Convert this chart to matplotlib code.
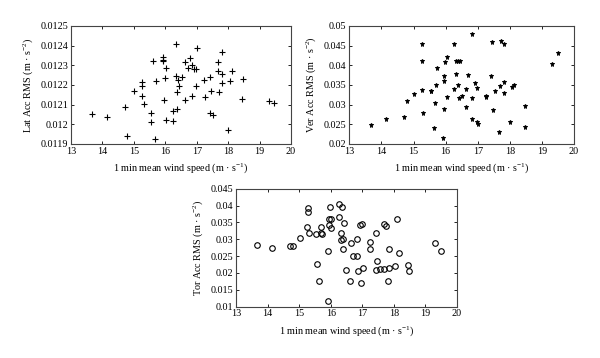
import numpy as np
import matplotlib
matplotlib.use("Agg")
from matplotlib import pyplot as plt

plt.rcParams['font.family'] = ['Liberation Serif', 'DejaVu Serif']
plt.rcParams['mathtext.default'] = 'regular'
plt.rcParams['font.size'] = 7.3

# lateral acceleration RMS vs wind speed
lat_x = [13.68, 14.15, 14.72, 14.77, 15.01, 15.26, 15.26, 15.26, 15.31, 15.55,
         15.54, 15.62, 15.70, 15.68, 15.92, 15.93, 15.94, 16.02, 15.99, 15.95,
         16.02, 16.33, 16.34, 16.40, 16.44, 16.38, 16.25, 16.37, 16.26, 16.52,
         16.63, 16.71, 16.80, 16.84, 16.91, 16.97, 17.01, 16.62, 16.84, 16.97,
         17.24, 17.25, 17.42, 17.43, 17.52, 17.46, 17.67, 17.68, 17.71, 17.81,
         17.82, 17.82, 18.00, 18.07, 18.12, 18.45, 18.47, 19.29, 19.47]
lat_y = [0.012054, 0.012039, 0.012089, 0.011941, 0.012169, 0.012213, 0.012196, 0.012143, 0.012104, 0.012057,
         0.012013, 0.012321, 0.012221, 0.011925, 0.012343, 0.012327, 0.012322, 0.012285, 0.012238, 0.012123,
         0.012022, 0.012407, 0.012245, 0.012224, 0.012197, 0.012164, 0.012069, 0.012076, 0.012017, 0.012241,
         0.012316, 0.012285, 0.012338, 0.012304, 0.012282, 0.012280, 0.012386, 0.012123, 0.012145, 0.012194,
         0.012224, 0.012140, 0.012241, 0.012060, 0.012045, 0.012169, 0.012317, 0.012273, 0.012164, 0.012368,
         0.012258, 0.012211, 0.011973, 0.012219, 0.012270, 0.012128, 0.012231, 0.012120, 0.012106]

# vertical acceleration RMS
ver_x = [13.66, 14.14, 14.71, 14.79, 15.01, 15.26, 15.27, 15.25, 15.31, 15.54,
         15.56, 15.63, 15.67, 15.70, 15.72, 15.94, 15.95, 15.94, 15.93, 15.99,
         16.03, 16.03, 16.26, 16.26, 16.32, 16.33, 16.38, 16.45, 16.38, 16.41,
         16.51, 16.62, 16.63, 16.70, 16.81, 16.83, 16.83, 16.92, 16.99, 17.02,
         16.99, 17.25, 17.26, 17.42, 17.43, 17.47, 17.54, 17.67, 17.68, 17.72,
         17.81, 17.81, 17.83, 18.00, 18.08, 18.12, 18.46, 18.47, 19.30, 19.49]
ver_y = [0.0249, 0.0264, 0.0269, 0.0309, 0.0327, 0.0454, 0.0410, 0.0336, 0.0280, 0.0335,
         0.0334, 0.0241, 0.0304, 0.0350, 0.0392, 0.0372, 0.0360, 0.0290, 0.0216, 0.0409,
         0.0420, 0.0320, 0.0454, 0.0339, 0.0378, 0.0410, 0.0410, 0.0412, 0.0351, 0.0318,
         0.0323, 0.0295, 0.0339, 0.0376, 0.0479, 0.0316, 0.0264, 0.0355, 0.0256, 0.0250,
         0.0343, 0.0323, 0.0320, 0.0372, 0.0460, 0.0287, 0.0334, 0.0231, 0.0347, 0.0462,
         0.0453, 0.0357, 0.0329, 0.0256, 0.0345, 0.0350, 0.0297, 0.0242, 0.0404, 0.0432]

# torsional acceleration RMS
tor_x = [13.68, 14.15, 14.72, 14.80, 15.02, 15.27, 15.27, 15.26, 15.32, 15.55,
         15.56, 15.64, 15.68, 15.71, 15.70, 15.93, 15.93, 15.96, 15.98, 15.96,
         16.02, 16.01, 16.25, 16.26, 16.37, 16.33, 16.34, 16.38, 16.40, 16.43,
         16.50, 16.62, 16.63, 16.71, 16.82, 16.84, 16.85, 16.92, 16.99, 16.97,
         17.02, 17.26, 17.26, 17.44, 17.48, 17.43, 17.55, 17.69, 17.69, 17.74,
         17.82, 17.84, 17.86, 18.03, 18.09, 18.15, 18.44, 18.47, 19.31, 19.48]
tor_y = [0.0282, 0.0275, 0.0281, 0.0281, 0.0305, 0.0393, 0.0380, 0.0337, 0.0318, 0.0315,
         0.0228, 0.0177, 0.0318, 0.0315, 0.0335, 0.0266, 0.0116, 0.0361, 0.0397, 0.0341,
         0.0361, 0.0333, 0.0405, 0.0365, 0.0397, 0.0318, 0.0297, 0.0300, 0.0270, 0.0347,
         0.0210, 0.0176, 0.0289, 0.0250, 0.0300, 0.0250, 0.0206, 0.0342, 0.0345, 0.0171,
         0.0215, 0.0292, 0.0272, 0.0319, 0.0237, 0.0210, 0.0212, 0.0211, 0.0345, 0.0339,
         0.0177, 0.0272, 0.0215, 0.0220, 0.0361, 0.0258, 0.0224, 0.0207, 0.0288, 0.0266]

xticks = [13, 14, 15, 16, 17, 18, 19, 20]
xlab = "1 min mean wind speed (m · s$^{-1}$)"

fig = plt.figure(figsize=(6, 3.58), dpi=100)
ax1 = fig.add_axes([0.1183, 0.5978, 0.3667, 0.3296])
ax2 = fig.add_axes([0.5822, 0.5978, 0.3745, 0.3296])
ax3 = fig.add_axes([0.3933, 0.1433, 0.3683, 0.3296])

ax1.plot(lat_x, lat_y, '+', color='k', markersize=5, markeredgewidth=0.8)
ax1.set_ylim(0.0119, 0.0125)
ax1.set_yticks([0.0119, 0.012, 0.0121, 0.0122, 0.0123, 0.0124, 0.0125])
ax1.set_yticklabels(["0.0119", "0.012", "0.0121", "0.0122", "0.0123", "0.0124", "0.0125"])
ax1.set_ylabel("Lat Acc RMS (m · s$^{-2}$)")

ax2.plot(ver_x, ver_y, '*', color='k', markersize=3.6, markeredgewidth=0.6)
ax2.set_ylim(0.02, 0.05)
ax2.set_yticks([0.02, 0.025, 0.03, 0.035, 0.04, 0.045, 0.05])
ax2.set_yticklabels(["0.02", "0.025", "0.03", "0.035", "0.04", "0.045", "0.05"])
ax2.set_ylabel("Ver Acc RMS (m · s$^{-2}$)")

ax3.plot(tor_x, tor_y, 'o', markerfacecolor='none', markeredgecolor='k', markersize=4, markeredgewidth=0.8)
ax3.set_ylim(0.01, 0.045)
ax3.set_yticks([0.01, 0.015, 0.02, 0.025, 0.03, 0.035, 0.04, 0.045])
ax3.set_yticklabels(["0.01", "0.015", "0.02", "0.025", "0.03", "0.035", "0.04", "0.045"])
ax3.set_ylabel("Tor Acc RMS (m · s$^{-2}$)")

for ax in (ax1, ax2, ax3):
    ax.set_xlim(13, 20)
    ax.set_xticks(xticks)
    ax.set_xlabel(xlab, labelpad=4)
    ax.tick_params(direction='in', top=True, right=True, length=2.5, width=0.6, pad=2)
    for s in ax.spines.values():
        s.set_linewidth(0.8)
        s.set_color('#444444')

fig.savefig("out.png", dpi=100)
